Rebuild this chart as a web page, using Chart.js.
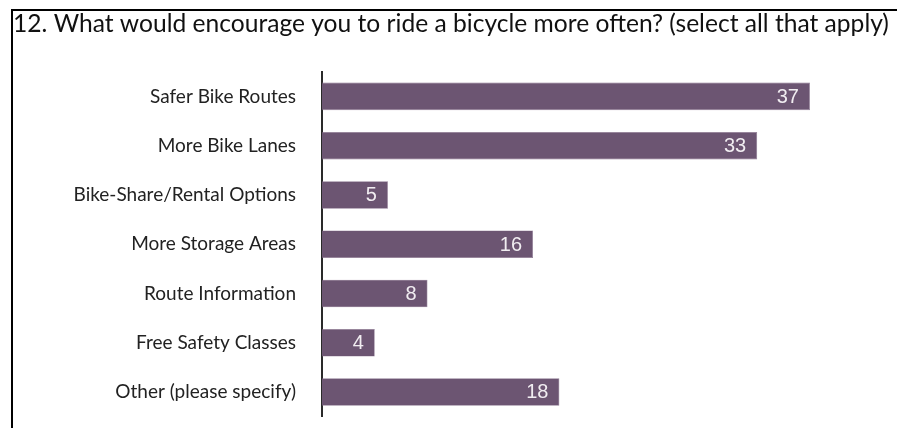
<!DOCTYPE html>
<html>
<head>
<meta charset="utf-8">
<script src="https://cdn.jsdelivr.net/npm/chart.js@4.4.1/dist/chart.umd.min.js"></script>
<style>
  html, body { margin: 0; padding: 0; background: #fff; }
  #wrap { width: 897px; height: 428px; }
</style>
</head>
<body>
<div id="wrap"><canvas id="c" width="897" height="428"></canvas></div>
<script>
const titleText = "12. What would encourage you to ride a bicycle more often? (select all that apply)";
const categories = [
  "Safer Bike Routes",
  "More Bike Lanes",
  "Bike-Share/Rental Options",
  "More Storage Areas",
  "Route Information",
  "Free Safety Classes",
  "Other (please specify)"
];
const counts = [37, 33, 5, 16, 8, 4, 18];
const xMax = 43.6;

const frame = {
  id: 'frame',
  beforeDraw(chart) {
    const ctx = chart.ctx;
    ctx.save();
    ctx.fillStyle = '#fff';
    ctx.fillRect(0, 0, chart.width, chart.height);
    ctx.strokeStyle = '#000';
    ctx.lineWidth = 2;
    ctx.beginPath();
    ctx.moveTo(11, 10);
    ctx.lineTo(chart.width, 10);
    ctx.moveTo(12, 9);
    ctx.lineTo(12, chart.height);
    ctx.stroke();
    ctx.restore();
  }
};

const valueLabels = {
  id: 'valueLabels',
  afterDatasetsDraw(chart) {
    const ctx = chart.ctx;
    const meta = chart.getDatasetMeta(0);
    ctx.save();
    ctx.font = '20px "Liberation Sans", Arial, sans-serif';
    ctx.fillStyle = '#f1edf1';
    ctx.textAlign = 'right';
    ctx.textBaseline = 'middle';
    meta.data.forEach((bar, i) => {
      ctx.fillText(String(chart.data.datasets[0].data[i]), bar.x - 11, bar.y + 1);
    });
    ctx.restore();
  }
};

new Chart(document.getElementById('c'), {
  type: 'bar',
  data: {
    labels: categories,
    datasets: [{
      data: counts,
      backgroundColor: '#6c5572',
      borderColor: '#8a7590',
      borderWidth: 0.6,
      barPercentage: 0.56,
      categoryPercentage: 1.0
    }]
  },
  options: {
    indexAxis: 'y',
    responsive: false,
    animation: false,
    layout: { padding: { left: 13, top: 0, right: 0, bottom: 11 } },
    plugins: {
      legend: { display: false },
      tooltip: { enabled: false },
      title: {
        display: true,
        text: titleText,
        align: 'start',
        color: '#111',
        font: { family: 'Lato', size: 24.6, weight: 'normal', lineHeight: 1.17 },
        padding: { top: 10, bottom: 33 }
      }
    },
    scales: {
      x: {
        display: false,
        min: 0,
        max: xMax
      },
      y: {
        grid: { display: false, drawTicks: true, tickLength: 26 },
        border: { display: true, color: '#2a2a2a', width: 2 },
        ticks: {
          color: '#222',
          padding: 0,
          font: { family: 'Lato', size: 19 }
        },
        afterFit(scale) { scale.width = 309; }
      }
    }
  },
  plugins: [frame, valueLabels]
});
</script>
</body>
</html>
